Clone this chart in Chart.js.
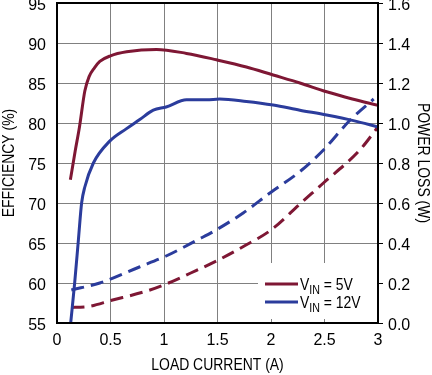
<!DOCTYPE html>
<html>
<head>
<meta charset="utf-8">
<script src="https://cdn.jsdelivr.net/npm/chart.js@4"></script>
<style>
  html, body { margin: 0; padding: 0; background: #fff; }
  #wrap { width: 432px; height: 375px; }
</style>
</head>
<body>
<div id="wrap"><canvas id="effChart" width="432" height="375"></canvas></div>
<script>
// efficiency curves (left axis, %)
const eff5vX = [0.125, 0.17, 0.21, 0.26, 0.3, 0.35, 0.4, 0.5, 0.65, 0.93, 1.21, 1.49, 1.77, 2.02, 2.27, 2.52, 2.76, 3.0];
const eff5vY = [72.9, 76.5, 79.5, 84.0, 85.8, 86.9, 87.7, 88.4, 88.9, 89.2, 88.7, 87.9, 87.0, 86.0, 85.0, 83.9, 83.0, 82.2];
const eff12vX = [0.128, 0.165, 0.2, 0.23, 0.26, 0.34, 0.49, 0.65, 0.77, 0.9, 1.02, 1.21, 1.4, 1.52, 1.77, 2.02, 2.27, 2.52, 2.77, 3.0];
const eff12vY = [55, 60, 65.4, 70, 72, 75, 77.7, 79.3, 80.4, 81.6, 82.0, 82.9, 82.9, 83.0, 82.7, 82.25, 81.6, 81.0, 80.3, 79.5];

// power loss curves (right axis, W)
const loss5vX = [0.135, 0.26, 0.52, 0.84, 1.02, 1.25, 1.49, 1.75, 2.0, 2.28, 2.49, 2.83, 3.0];
const loss5vY = [0.078, 0.08, 0.115, 0.16, 0.195, 0.25, 0.31, 0.385, 0.465, 0.6, 0.70, 0.865, 0.98];
const loss12vX = [0.134, 0.4, 0.77, 1.02, 1.33, 1.46, 1.74, 1.99, 2.27, 2.49, 2.74, 2.96];
const loss12vY = [0.165, 0.2, 0.28, 0.335, 0.42, 0.457, 0.55, 0.65, 0.757, 0.865, 1.015, 1.12];

const legendLabels = ["5V", "12V"];
const xTitle = "LOAD CURRENT (A)";
const yTitle = "EFFICIENCY (%)";
const y2Title = "POWER LOSS (W)";

const RED = "#7e1734";
const BLUE = "#2b3c9c";
const SQUEEZE = 0.82; // the original uses a condensed face

function pts(xs, ys) {
  return xs.map((x, i) => ({ x: x, y: ys[i] }));
}

function squeezedText(ctx, text, x, y, angle, size) {
  ctx.save();
  ctx.translate(x, y);
  ctx.rotate(angle);
  ctx.scale(SQUEEZE, 1);
  ctx.font = size + "px 'Liberation Sans', Arial, sans-serif";
  ctx.fillStyle = "#000";
  ctx.textAlign = "center";
  ctx.textBaseline = "middle";
  ctx.fillText(text, 0, 0);
  ctx.restore();
}

// white box behind the legend, frame, legend with subscript "IN", axis titles
const decor = {
  id: "decor",
  beforeDatasetsDraw(chart) {
    const ctx = chart.ctx;
    ctx.save();
    ctx.fillStyle = "#fff";
    ctx.fillRect(258, 263, 119, 56);
    ctx.restore();
  },
  afterDatasetsDraw(chart) {
    const ctx = chart.ctx;
    const a = chart.chartArea;
    ctx.save();
    ctx.strokeStyle = "#000";
    ctx.lineWidth = 2;
    ctx.strokeRect(a.left, a.top, a.right - a.left, a.bottom - a.top);

    const colors = [RED, BLUE];
    const rows = [284, 302];
    legendLabels.forEach((lab, i) => {
      const y = rows[i];
      ctx.strokeStyle = colors[i];
      ctx.lineWidth = 3;
      ctx.beginPath();
      ctx.moveTo(265, y);
      ctx.lineTo(298, y);
      ctx.stroke();

      ctx.save();
      ctx.translate(300, 0);
      ctx.scale(SQUEEZE, 1);
      ctx.fillStyle = "#000";
      ctx.textBaseline = "alphabetic";
      ctx.font = "17px 'Liberation Sans', Arial, sans-serif";
      let x = 0;
      ctx.fillText("V", x, y + 6);
      x += ctx.measureText("V").width;
      ctx.font = "13px 'Liberation Sans', Arial, sans-serif";
      ctx.fillText("IN", x, y + 10);
      x += ctx.measureText("IN").width;
      ctx.font = "17px 'Liberation Sans', Arial, sans-serif";
      ctx.fillText(" = " + lab, x, y + 6);
      ctx.restore();
    });
    ctx.restore();

    const midX = (a.left + a.right) / 2;
    const midY = (a.top + a.bottom) / 2;
    squeezedText(ctx, xTitle, midX, 365, 0, 17);
    squeezedText(ctx, yTitle, 9, midY, -Math.PI / 2, 17);
    squeezedText(ctx, y2Title, 423, midY, Math.PI / 2, 17);
  }
};

const font = { family: "'Liberation Sans', Arial, sans-serif", size: 16 };

new Chart(document.getElementById("effChart").getContext("2d"), {
  type: "line",
  data: {
    datasets: [
      { data: pts(eff5vX, eff5vY), yAxisID: "y", borderColor: RED, borderWidth: 3, pointRadius: 0, tension: 0.4, cubicInterpolationMode: "monotone" },
      { data: pts(eff12vX, eff12vY), yAxisID: "y", borderColor: BLUE, borderWidth: 3, pointRadius: 0, tension: 0.4, cubicInterpolationMode: "monotone" },
      { data: pts(loss5vX, loss5vY), yAxisID: "y2", borderColor: RED, borderWidth: 3, borderDash: [13, 7], pointRadius: 0, tension: 0.4, cubicInterpolationMode: "monotone" },
      { data: pts(loss12vX, loss12vY), yAxisID: "y2", borderColor: BLUE, borderWidth: 3, borderDash: [13, 7], pointRadius: 0, tension: 0.4, cubicInterpolationMode: "monotone" }
    ]
  },
  options: {
    responsive: false,
    animation: false,
    layout: { padding: { top: 3, left: 0, right: 0, bottom: 0 } },
    plugins: { legend: { display: false }, tooltip: { enabled: false } },
    scales: {
      x: {
        type: "linear",
        min: 0, max: 3,
        ticks: { stepSize: 0.5, color: "#000", font: font, padding: 8, callback: (v) => String(v) },
        grid: { color: "#808080", lineWidth: 1, drawTicks: false },
        border: { display: false },
        afterFit(scale) { scale.height = 52; scale.paddingLeft = 0; scale.paddingRight = 0; }
      },
      y: {
        position: "left",
        min: 55, max: 95,
        ticks: { stepSize: 5, color: "#000", font: font, padding: 11, labelOffset: 3 },
        grid: { color: "#808080", lineWidth: 1, drawTicks: false },
        border: { display: false },
        afterFit(scale) { scale.width = 57; scale.paddingTop = 0; scale.paddingBottom = 0; }
      },
      y2: {
        position: "right",
        min: 0, max: 1.6,
        ticks: { stepSize: 0.2, color: "#000", font: font, padding: 5, labelOffset: 3, callback: (v) => v.toFixed(1) },
        grid: { drawOnChartArea: false, color: "#000", tickLength: 5 },
        border: { display: false },
        afterFit(scale) { scale.width = 54; scale.paddingTop = 0; scale.paddingBottom = 0; }
      }
    }
  },
  plugins: [decor]
});
</script>
</body>
</html>
